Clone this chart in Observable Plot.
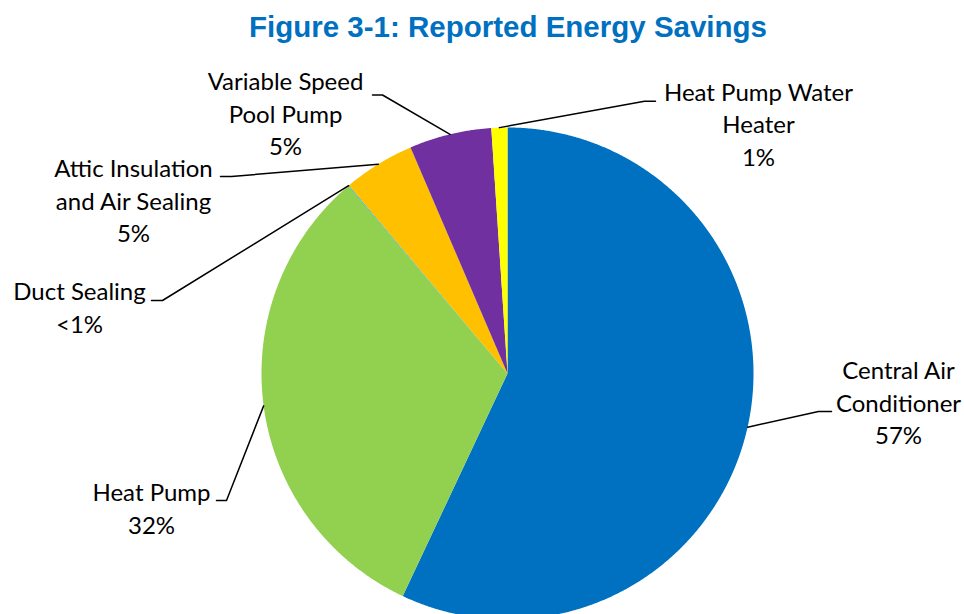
<!DOCTYPE html>
<html>
<head>
<meta charset="utf-8">
<script src="https://cdn.jsdelivr.net/npm/d3@7"></script>
<script src="https://cdn.jsdelivr.net/npm/@observablehq/plot@0.6"></script>
<style>
  html, body { margin: 0; padding: 0; background: #fff; }
  #chart svg { display: block; }
</style>
</head>
<body>
<div id="chart"></div>
<script>
// ---- data ----
const title = "Figure 3-1: Reported Energy Savings";
const categories = ["Central Air\nConditioner", "Heat Pump", "Duct Sealing", "Attic Insulation\nand Air Sealing", "Variable Speed\nPool Pump", "Heat Pump Water\nHeater"];
const values = [57.0, 31.8, 0.05, 4.7, 5.4, 1.05];
const pctLabels = ["57%", "32%", "<1%", "5%", "5%", "1%"];
const colors = ["#0070C0", "#92D050", "#00B0F0", "#FFC000", "#7030A0", "#FFFF00"];

// ---- layout ----
const W = 964, H = 614;
const cx = 507, cy = 373, R = 246;
// label block centers and leader elbows (label end x, elbow x, y)
const labelPos = [
  {x: 898, y: 401, lx0: 831, lx1: 818, ly: 411},
  {x: 151, y: 506.5, lx0: 216, lx1: 226, ly: 500},
  {x: 79,  y: 305.5, lx0: 151, lx1: 162, ly: 300},
  {x: 133, y: 199, lx0: 220, lx1: 231, ly: 176},
  {x: 285, y: 112, lx0: 372, lx1: 382, ly: 94.5},
  {x: 758, y: 122.5, lx0: 655, lx1: 644, ly: 100.7}
];

// ---- slices via d3.pie (clockwise from 12 o'clock) ----
const table = categories.map((c, i) => ({cat: c, value: values[i], pct: pctLabels[i], color: colors[i]}));
const arcs = d3.pie().sort(null).value(d => d.value)(table);
const px = a => cx + R * Math.sin(a);
const py = a => cy - R * Math.cos(a);

const slicePts = [];
arcs.forEach((a, i) => {
  const n = Math.max(2, Math.ceil((a.endAngle - a.startAngle) / 0.005));
  slicePts.push({k: i, x: cx, y: cy, color: a.data.color});
  for (let j = 0; j <= n; j++) {
    const t = a.startAngle + (a.endAngle - a.startAngle) * j / n;
    slicePts.push({k: i, x: px(t), y: py(t), color: a.data.color});
  }
  slicePts.push({k: i, x: cx, y: cy, color: a.data.color});
});

const leaderPts = [];
arcs.forEach((a, i) => {
  const m = (a.startAngle + a.endAngle) / 2;
  const L = labelPos[i];
  leaderPts.push({k: i, x: L.lx0, y: L.ly});
  leaderPts.push({k: i, x: L.lx1, y: L.ly});
  leaderPts.push({k: i, x: px(m), y: py(m)});
});

const labels = table.map((d, i) => ({text: d.cat + "\n" + d.pct, x: labelPos[i].x, y: labelPos[i].y}));

const chart = Plot.plot({
  width: W,
  height: H,
  margin: 0,
  x: {domain: [0, W], range: [0, W], axis: null},
  y: {domain: [0, H], range: [0, H], axis: null},
  color: {type: "identity"},
  marks: [
    Plot.line(slicePts, {x: "x", y: "y", z: "k", fill: "color", stroke: null, curve: "linear"}),
    Plot.line(leaderPts, {x: "x", y: "y", z: "k", stroke: "#000", strokeWidth: 1.5, curve: "linear"}),
    Plot.text(labels, {x: "x", y: "y", text: "text", fontFamily: "Lato", fontSize: 24, lineHeight: 1.355, fill: "#000", textAnchor: "middle"}),
    Plot.text([title], {x: () => 507.5, y: () => 27, text: d => d, fontFamily: "Liberation Sans, Arial, sans-serif", fontWeight: "bold", fontSize: 29.5, fill: "#0070C0", textAnchor: "middle"})
  ]
});
document.getElementById("chart").appendChild(chart);
</script>
</body>
</html>
